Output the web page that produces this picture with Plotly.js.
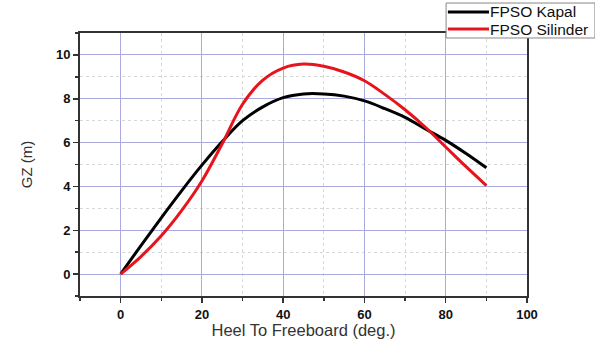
<!DOCTYPE html>
<html>
<head>
<meta charset="utf-8">
<script src="https://cdn.plot.ly/plotly-3.0.1.min.js"></script>
<style>html,body{margin:0;padding:0;background:#fff;}#chart{width:595px;height:339px;}</style>
</head>
<body>
<div id="chart"></div>
<script>
const heel = [0, 5, 10, 15, 20, 25, 30, 35, 40, 45, 50, 55, 60, 65, 70, 75, 80, 85, 90];
const gzKapal = [0, 1.3, 2.57, 3.8, 4.97, 6.05, 7.0, 7.63, 8.05, 8.22, 8.22, 8.12, 7.9, 7.55, 7.15, 6.62, 6.1, 5.5, 4.85];
const gzSilinder = [0, 0.8, 1.75, 2.9, 4.25, 5.95, 7.75, 8.85, 9.4, 9.58, 9.48, 9.22, 8.82, 8.2, 7.5, 6.7, 5.8, 4.9, 4.04];
const seriesNames = ["FPSO Kapal", "FPSO Silinder"];
const seriesColors = ["#000000", "#e8141c"];

const FONT = "Liberation Sans, Arial, sans-serif";

const traces = [
  {x: heel, y: gzKapal, name: seriesNames[0], type: "scatter", mode: "lines",
   line: {color: seriesColors[0], width: 3, shape: "spline", smoothing: 1}},
  {x: heel, y: gzSilinder, name: seriesNames[1], type: "scatter", mode: "lines",
   line: {color: seriesColors[1], width: 3, shape: "spline", smoothing: 1}}
];

const axisCommon = {
  showline: true, linecolor: "#333333", linewidth: 2, mirror: true,
  ticks: "outside", ticklen: 5, tickwidth: 1.5, tickcolor: "#333333",
  showgrid: true, gridcolor: "#aaaadd", gridwidth: 1,
  zeroline: false, automargin: false,
  tickfont: {family: FONT, size: 13, color: "#111111", weight: "bold"},
  minor: {ticks: "outside", ticklen: 3, tickcolor: "#333333", showgrid: true, gridcolor: "#d8d8d8", griddash: "dot", gridwidth: 1}
};

// manual legend (paper coordinates: px -> (px-80)/447, py -> (296-py)/263)
const legBox = {x0: 0.819, x1: 1.152, y0: 0.981, y1: 1.114};
const legRows = [1.080, 1.015];
const shapes = [
  {type: "rect", xref: "paper", yref: "paper", x0: legBox.x0, x1: legBox.x1, y0: legBox.y0, y1: legBox.y1,
   line: {color: "#888888", width: 1}, fillcolor: "#ffffff", layer: "above"}
];
const annotations = [];
seriesNames.forEach((nm, i) => {
  shapes.push({type: "line", xref: "paper", yref: "paper", x0: 0.823, x1: 0.915, y0: legRows[i], y1: legRows[i],
    line: {color: seriesColors[i], width: 3}, layer: "above"});
  annotations.push({xref: "paper", yref: "paper", x: 0.915, y: legRows[i], xanchor: "left", yanchor: "middle",
    text: nm, showarrow: false, borderpad: 0, font: {family: FONT, size: 15.5, color: "#111111"}});
});

const layout = {
  width: 595, height: 339,
  margin: {l: 80, r: 68, t: 33, b: 43, autoexpand: false},
  paper_bgcolor: "#ffffff", plot_bgcolor: "#ffffff",
  showlegend: false,
  shapes: shapes,
  annotations: annotations,
  xaxis: Object.assign({}, axisCommon, {
    range: [-10, 100], tickmode: "linear", tick0: 0, dtick: 20,
    minor: Object.assign({}, axisCommon.minor, {dtick: 10}),
    title: {text: "Heel To Freeboard (deg.)", standoff: 8,
      font: {family: FONT, size: 16.5, color: "#333333"}}
  }),
  yaxis: Object.assign({}, axisCommon, {
    range: [-1, 11], tickmode: "linear", tick0: 0, dtick: 2,
    minor: Object.assign({}, axisCommon.minor, {dtick: 1}),
    title: {text: "GZ (m)", standoff: 20,
      font: {family: FONT, size: 15, color: "#333333"}}
  })
};

Plotly.newPlot("chart", traces, layout, {staticPlot: true, displayModeBar: false});
</script>
</body>
</html>
